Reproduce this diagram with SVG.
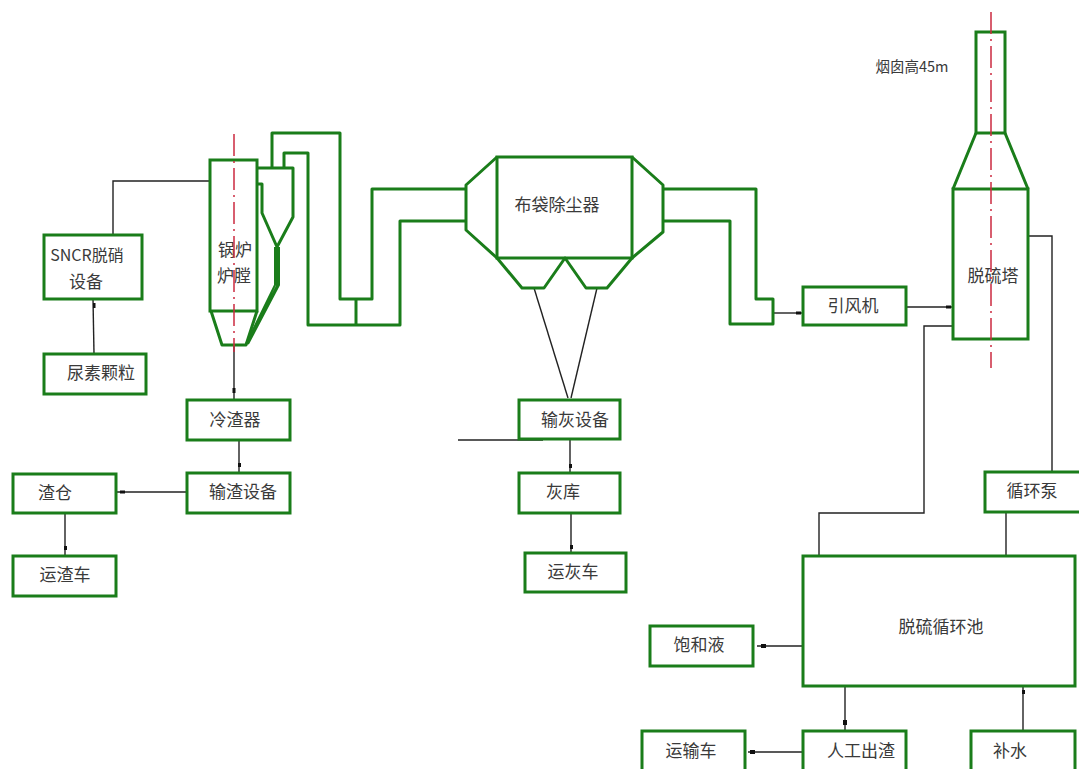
<svg xmlns="http://www.w3.org/2000/svg" width="1079" height="769" viewBox="0 0 1079 769">
<style>
.g{fill:none;stroke:#1a7d1a;stroke-width:3;stroke-linejoin:round}
.t{fill:none;stroke:#1a7d1a;stroke-width:2}
.b{fill:#fff;stroke:#1a7d1a;stroke-width:3}
.k{fill:none;stroke:#222;stroke-width:1.4}
.r{fill:none;stroke:#cc2a40;stroke-width:1.5;stroke-dasharray:22 5 2 5}
.d{fill:#111;stroke:none}
text{font-family:"Noto Sans CJK SC","Liberation Sans",sans-serif;font-size:17px;fill:#3a3a3a;text-anchor:middle}
</style>
<rect width="1079" height="769" fill="#fff"/>
<g id="connectors">
<path class="k" d="M113 235V181H228"/>
<path class="k" d="M94 354L93 299"/>
<path class="k" d="M234 345V400"/>
<path class="k" d="M239 440V473"/>
<path class="k" d="M187 492H116"/>
<path class="k" d="M65 513V556"/>
<path class="k" d="M534 288L568 398"/>
<path class="k" d="M597 288L571 398"/>
<path class="k" d="M458 440H543"/>
<path class="k" d="M570 439V473"/>
<path class="k" d="M571 513V553"/>
<path class="k" d="M773 313H803"/>
<path class="k" d="M906 307H953"/>
<path class="k" d="M1028 236H1052V473"/>
<path class="k" d="M953 326H924V513H819V556"/>
<path class="k" d="M1006 512V556"/>
<path class="k" d="M803 646H757"/>
<path class="k" d="M845 686V731"/>
<path class="k" d="M1023 731V686"/>
<path class="k" d="M803 752H748"/>
<rect class="d" x="93" y="303" width="2.500" height="5"/>
<rect class="d" x="232.500" y="388" width="3" height="5"/>
<rect class="d" x="238" y="463" width="3" height="4"/>
<rect class="d" x="120" y="490.500" width="5" height="3"/>
<rect class="d" x="64" y="546" width="3" height="4"/>
<rect class="d" x="569" y="464" width="3" height="4"/>
<rect class="d" x="570" y="545" width="3" height="4"/>
<rect class="d" x="796" y="311.500" width="5" height="3"/>
<rect class="d" x="946" y="305.500" width="5" height="3"/>
<rect class="d" x="761" y="644" width="5" height="4"/>
<rect class="d" x="843" y="720" width="4" height="5"/>
<rect class="d" x="1022" y="690" width="3" height="4"/>
<rect class="d" x="750" y="750" width="5" height="4"/>
</g>
<g id="flue-ducts">
<path class="g" d="M272 168V133H340V299H372V189H466"/>
<path class="g" d="M284 168V153H308V325H400V221H466"/>
<path class="g" d="M356 299V325"/>
<path class="g" d="M663 189H756V299H773V324H730V221H663"/>
</g>
<g id="boiler">
<rect class="b" x="210" y="160" width="47" height="151"/>
<path class="g" d="M211 311L222 345H246L257 311"/>
<text x="235" y="256">锅炉</text>
<text x="234" y="282">炉膛</text>
</g>
<g id="cyclone">
<path class="g" d="M257 168H293V217L277 247L262 213V184H257"/>
<path class="t" d="M275 247V285L246 344M279 247V285L248 344M277 247V286L247 344"/>
</g>
<g id="baghouse">
<rect class="b" x="497" y="157" width="135" height="101"/>
<path class="g" d="M497 157L466 185V230L497 258"/>
<path class="g" d="M632 157L663 185V232L632 258"/>
<path class="g" d="M497 258L522 288H544L565 258L586 288H607L632 258"/>
<text x="557" y="211">布袋除尘器</text>
</g>
<g id="stack">
<rect class="b" x="976" y="32" width="29" height="101"/>
<path class="g" d="M953 189L976 133M1005 133L1028 189"/>
</g>
<g id="tower">
<rect class="b" x="953" y="189" width="75" height="150"/>
<text x="993" y="282">脱硫塔</text>
</g>
<g id="stack-label"><text x="912" y="72" style="font-size:14.500px">烟囱高45m</text></g>
<g id="centerlines">
<path class="r" d="M234 134V352"/>
<path class="r" d="M991 12V368"/>
</g>
<g id="sncr"><rect class="b" x="44" y="235" width="98" height="64"/><text x="87" y="261" style="font-size:16px">SNCR脱硝</text><text x="86" y="288">设备</text></g>
<g id="urea"><rect class="b" x="44" y="354" width="102" height="40"/><text x="101" y="379">尿素颗粒</text></g>
<g id="slag-cooler"><rect class="b" x="187" y="400" width="103" height="40"/><text x="235" y="426">冷渣器</text></g>
<g id="slag-conveyor"><rect class="b" x="187" y="473" width="103" height="40"/><text x="243" y="498">输渣设备</text></g>
<g id="slag-bin"><rect class="b" x="13" y="474" width="103" height="39"/><text x="55" y="499">渣仓</text></g>
<g id="slag-truck"><rect class="b" x="13" y="556" width="103" height="40"/><text x="65" y="581">运渣车</text></g>
<g id="ash-conveyor"><rect class="b" x="519" y="400" width="101" height="39"/><text x="575" y="426">输灰设备</text></g>
<g id="ash-silo"><rect class="b" x="519" y="473" width="101" height="40"/><text x="563" y="498">灰库</text></g>
<g id="ash-truck"><rect class="b" x="525" y="553" width="101" height="39"/><text x="573" y="578">运灰车</text></g>
<g id="fan"><rect class="b" x="803" y="287" width="103" height="38"/><text x="853" y="312">引风机</text></g>
<g id="pump"><rect class="b" x="985" y="472" width="100" height="40"/><text x="1032" y="497">循环泵</text></g>
<g id="pool"><rect class="b" x="803" y="556" width="272" height="130"/><text x="941" y="633">脱硫循环池</text></g>
<g id="saturated"><rect class="b" x="650" y="626" width="103" height="40"/><text x="699" y="651">饱和液</text></g>
<g id="manual"><rect class="b" x="803" y="731" width="103" height="45"/><text x="861" y="757">人工出渣</text></g>
<g id="truck"><rect class="b" x="642" y="731" width="103" height="45"/><text x="691" y="757">运输车</text></g>
<g id="water"><rect class="b" x="971" y="731" width="104" height="45"/><text x="1010" y="757">补水</text></g>
</svg>
